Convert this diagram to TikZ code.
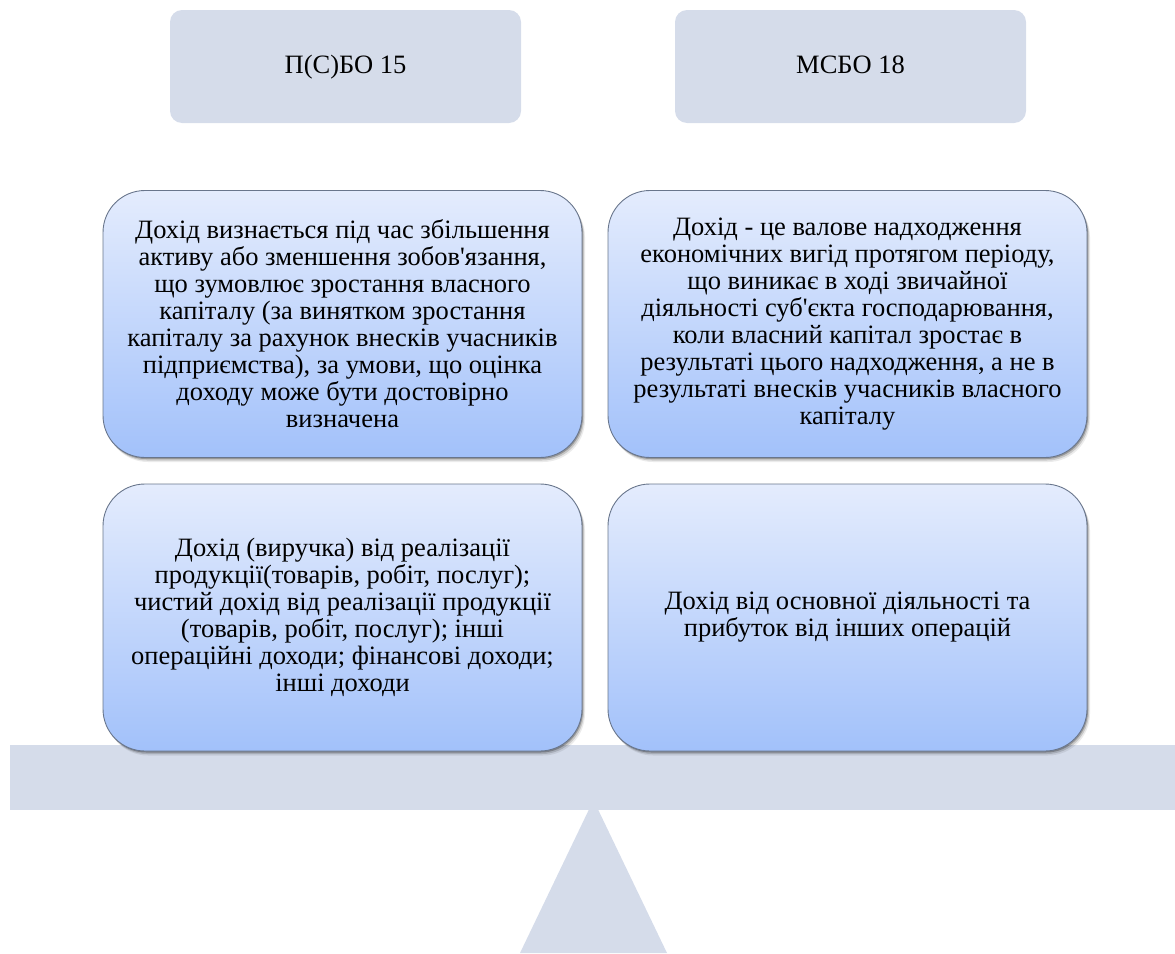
\documentclass[tikz,border=0pt]{standalone}
\usepackage{fontspec}
\setmainfont{Liberation Serif}[Ligatures=TeXOff]
\usetikzlibrary{shadows}
\definecolor{pale}{RGB}{213,220,234}
\definecolor{gtop}{RGB}{228,236,253}
\definecolor{gbot}{RGB}{162,193,250}
\definecolor{edge}{RGB}{105,118,140}
\begin{document}
\begin{tikzpicture}[x=1pt,y=-1pt,
  head/.style={rectangle, rounded corners=12pt, fill=pale, minimum width=351pt,
    minimum height=113pt, inner sep=0pt, text height=18pt, text depth=5pt,
    font=\fontsize{26.5}{27}\selectfont},
  card/.style={rectangle, rounded corners=42pt, top color=gtop, bottom color=gbot,
    draw=edge, line width=0.9pt, minimum width=479pt, minimum height=267pt,
    inner sep=0pt, align=center, font=\fontsize{26.5}{27}\selectfont,
    drop shadow={shadow xshift=1pt, shadow yshift=-1.5pt, opacity=0.25, fill=black},
    drop shadow={shadow xshift=2pt, shadow yshift=-3pt, opacity=0.15, fill=black},
    drop shadow={shadow xshift=3pt, shadow yshift=-4.5pt, opacity=0.08, fill=black}}]
\useasboundingbox (0,0) rectangle (1175,953);
% fulcrum and beam
\fill[pale] (593.5,800) -- (520,953) -- (667,953) -- cycle;
\fill[pale] (10,745) rectangle (1175,810);
% headers
\node[head] (h1) at (345.5,66.5) {П(С)БО 15};
\node[head] (h2) at (850.5,66.5) {МСБО 18};
% cards
\node[card] (c1) at (342.5,324) {Дохід визнається під час збільшення\\
активу або зменшення зобов'язання,\\
що зумовлює зростання власного\\
капіталу (за винятком зростання\\
капіталу за рахунок внесків учасників\\
підприємства), за умови, що оцінка\\
доходу може бути достовірно\\
визначена};
\node[card] (c2) at (847.5,324) {Дохід - це валове надходження\\
економічних вигід протягом періоду,\\
що виникає в ході звичайної\\
діяльності суб'єкта господарювання,\\
коли власний капітал зростає в\\
результаті цього надходження, а не в\\
результаті внесків учасників власного\\
капіталу};
\node[card] (c3) at (342.5,617.5) {Дохід (виручка) від реалізації\\
продукції(товарів, робіт, послуг);\\
чистий дохід від реалізації продукції\\
(товарів, робіт, послуг); інші\\
операційні доходи; фінансові доходи;\\
інші доходи};
\node[card] (c4) at (847.5,617.5) {Дохід від основної діяльності та\\
прибуток від інших операцій};
\end{tikzpicture}
\end{document}
